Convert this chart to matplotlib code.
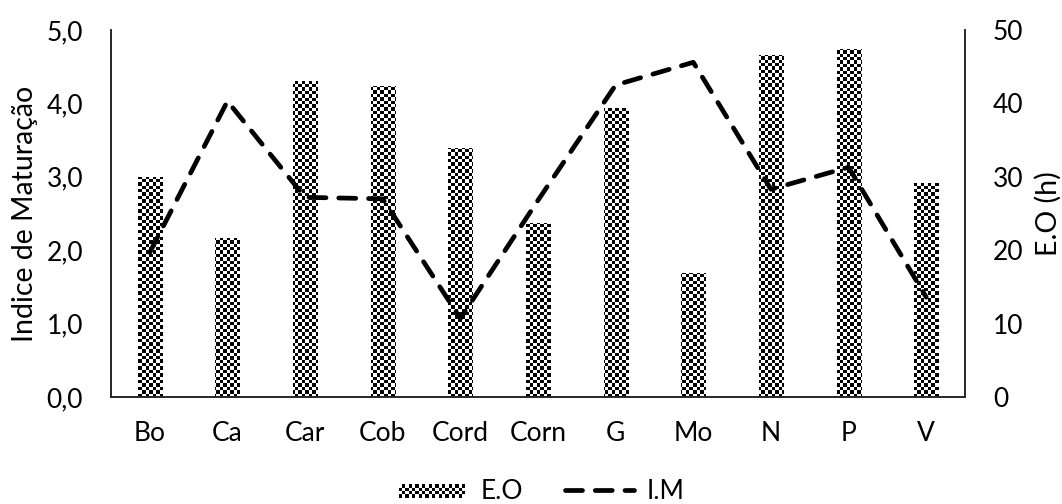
import numpy as np
import matplotlib
matplotlib.use("Agg")
import matplotlib.pyplot as plt
from matplotlib.ticker import FuncFormatter
from matplotlib.legend_handler import HandlerBase
from matplotlib.patches import Rectangle, Patch
from matplotlib.collections import PatchCollection
from matplotlib.lines import Line2D

categories = ["Bo", "Ca", "Car", "Cob", "Cord", "Corn", "G", "Mo", "N", "P", "V"]
eo_hours = [30.0, 21.6, 43.0, 42.4, 33.9, 23.7, 39.4, 16.9, 46.6, 47.4, 29.2]
im_index = [1.97, 4.03, 2.72, 2.70, 1.07, 2.68, 4.25, 4.56, 2.83, 3.13, 1.36]

plt.rcParams["font.family"] = ["Lato", "DejaVu Sans"]
FS = 19
LW = 3.4
DASH = (0, (3.6, 2.7))


class CheckerHandler(HandlerBase):
    # legend key drawn as a small checkerboard
    def create_artists(self, legend, orig_handle, xdescent, ydescent,
                       width, height, fontsize, trans):
        cell = 2.4
        nx, ny = int(width / cell), int(height / cell)
        rects = []
        for i in range(nx):
            for j in range(ny):
                if (i + j) % 2 == 0:
                    rects.append(Rectangle((-xdescent + i * cell, -ydescent + j * cell), cell, cell))
        pc = PatchCollection(rects, facecolor="black", edgecolor="none", transform=trans)
        return [pc]


fig = plt.figure(figsize=(10.62, 5.04), dpi=100)
ax = fig.add_axes([0.1045, 0.2123, 0.8042, 0.7282])
ax2 = ax.twinx()
ax.set_zorder(ax2.get_zorder() + 1)
ax.patch.set_visible(False)

x = np.arange(len(categories))

# bars (E.O) on right axis, filled with a checker image clipped to each bar
bars = ax2.bar(x, eo_hours, width=0.31, facecolor="none", edgecolor="none")
rows, cols = 108, 251
checker = (np.add.outer(np.arange(rows), np.arange(cols)) % 2).astype(float)
for b in bars:
    im = ax2.imshow(checker, cmap="gray_r", vmin=0, vmax=1, extent=(0, 1, 0, 1),
                    transform=ax2.transAxes, interpolation="nearest", aspect="auto")
    im.set_clip_path(b)

# line (I.M) on left axis
ax.plot(x, im_index, color="black", lw=LW, linestyle=DASH,
        dash_capstyle="round", solid_joinstyle="round", dash_joinstyle="round")

ax.set_xlim(-0.5, len(categories) - 0.5)
ax.set_ylim(0, 5)
ax2.set_ylim(0, 50)
ax.set_yticks(np.arange(0, 5.01, 1.0))
ax2.set_yticks(np.arange(0, 51, 10))
ax.yaxis.set_major_formatter(FuncFormatter(lambda v, p: f"{v:.1f}".replace(".", ",")))
ax.set_xticks(x, categories)

for a in (ax, ax2):
    a.tick_params(length=0, labelsize=FS, colors="#000000")
    a.spines["top"].set_visible(False)
    for s in ("left", "right", "bottom"):
        a.spines[s].set_color("#262626")
        a.spines[s].set_linewidth(1.2)
ax.tick_params(axis="y", pad=20)
ax.tick_params(axis="x", pad=17)
ax2.tick_params(axis="y", pad=20)

ax.set_ylabel("Indice de Maturação", fontsize=20.5, labelpad=6)
ax2.set_ylabel("E.O (h)", fontsize=20.5, labelpad=8)

eo_proxy = Patch(facecolor="black")
im_proxy = Line2D([], [], color="black", lw=LW, linestyle=DASH, dash_capstyle="round")
fig.legend([eo_proxy, im_proxy], ["E.O", "I.M"], loc="lower center",
           bbox_to_anchor=(0.51, -0.047), ncol=2, frameon=False, fontsize=FS,
           handlelength=2.6, handleheight=0.55, columnspacing=1.6, handletextpad=0.5,
           handler_map={eo_proxy: CheckerHandler()})

fig.savefig("out.png", dpi=100)
